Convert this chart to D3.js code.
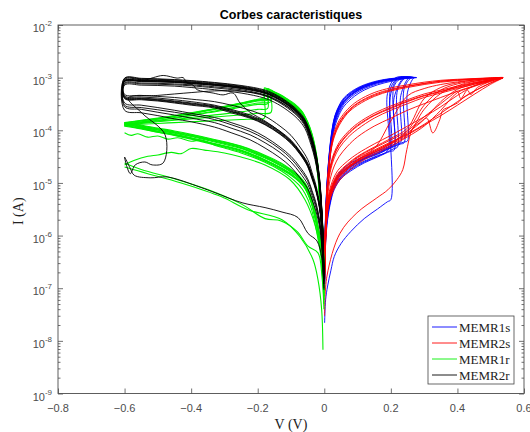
<!DOCTYPE html>
<html><head><meta charset="utf-8">
<script src="https://cdn.jsdelivr.net/npm/d3@7"></script>
<style>body{margin:0;background:#fff}svg{display:block}</style>
</head><body>
<svg id="chart" width="530" height="432"></svg>
<script>
// ---------------- DATA ----------------
const title = "Corbes caracteristiques";
const xLabel = "V (V)";
const yLabel = "I (A)";
const xTicks = [-0.8, -0.6, -0.4, -0.2, 0, 0.2, 0.4, 0.6];
const yTickExp = [-9, -8, -7, -6, -5, -4, -3, -2];
const seriesNames = ["MEMR1s", "MEMR2s", "MEMR1r", "MEMR2r"];
const seriesColors = ["#0000ff", "#ff0000", "#00f000", "#000000"];
const compliance = 1e-3;

// MEMR1s (blue) : HRS forward, set jump, compliance, LRS return
const blueHrsV = [0.001, 0.004, 0.01, 0.02, 0.03, 0.05, 0.08, 0.12, 0.16, 0.19, 0.20, 0.21, 0.22, 0.23, 0.24, 0.25];
const blueHrsI = [
  [2e-7, 1e-6, 2.4e-6, 5.2e-6, 8.5e-6, 1.3e-5, 1.9e-5, 2.6e-5, 3.3e-5, 4.1e-5],
  [1.5e-7, 9e-7, 2.6e-6, 5.8e-6, 9.5e-6, 1.5e-5, 2.1e-5, 2.9e-5, 3.6e-5, 4.4e-5, 4.7e-5],
  [2.5e-7, 1.2e-6, 2.8e-6, 6e-6, 1e-5, 1.6e-5, 2.2e-5, 3e-5, 3.8e-5, 4.6e-5, 4.9e-5, 5.2e-5],
  [1.2e-7, 8e-7, 2.2e-6, 5e-6, 8e-6, 1.25e-5, 1.8e-5, 2.5e-5, 3.2e-5, 3.9e-5, 4.2e-5, 4.5e-5, 4.8e-5],
  [3e-7, 1.3e-6, 3e-6, 6.5e-6, 1.05e-5, 1.7e-5, 2.4e-5, 3.2e-5, 4e-5, 4.8e-5, 5.1e-5, 5.4e-5, 5.7e-5, 6e-5],
  [1.8e-7, 1e-6, 2.5e-6, 5.5e-6, 9e-6, 1.4e-5, 2e-5, 2.8e-5, 3.5e-5, 4.3e-5, 4.6e-5, 4.9e-5, 5.2e-5, 5.5e-5, 5.8e-5],
  [2.2e-7, 1.1e-6, 2.7e-6, 5.9e-6, 9.6e-6, 1.5e-5, 2.1e-5, 2.9e-5, 3.7e-5, 4.5e-5, 4.8e-5, 5.1e-5, 5.4e-5, 5.7e-5, 6e-5, 6.3e-5],
  [1e-7, 7e-7, 2e-6, 4.6e-6, 7.5e-6, 1.2e-5, 1.7e-5, 2.4e-5, 3.1e-5, 3.8e-5, 4e-5, 4.2e-5],
  [2.2e-8, 6e-8, 1.1e-7, 2.2e-7, 4e-7, 7e-7, 1.2e-6, 2.1e-6, 3.2e-6, 4.4e-6, 4.8e-6]
];
const blueJumpI = [5e-4, 6.5e-4, 4.2e-4, 5.8e-4, 4.6e-4, 6.2e-4, 5.3e-4, 7e-4, 5e-4];
const blueTopV = [0.215, 0.225, 0.24, 0.245, 0.255, 0.262, 0.27, 0.235, 0.225];
const blueMaxV = [0.265, 0.27, 0.268, 0.272, 0.27, 0.275, 0.278, 0.265, 0.262];
const blueLrsV = [0.24, 0.2, 0.16, 0.12, 0.09, 0.06, 0.045, 0.032, 0.024, 0.017, 0.01, 0.005, 0.002, 0.001];
const blueLrsI = [
  [1e-3, 9.4e-4, 8.4e-4, 7e-4, 5.6e-4, 3.9e-4, 2.8e-4, 1.8e-4, 1e-4, 4.5e-5, 1.4e-5, 3.5e-6, 7e-7, 2.5e-7],
  [1e-3, 9.2e-4, 8.2e-4, 6.7e-4, 5.3e-4, 3.6e-4, 2.6e-4, 1.6e-4, 9e-5, 4e-5, 1.2e-5, 3e-6, 6e-7, 2e-7],
  [9.8e-4, 9e-4, 8e-4, 6.5e-4, 5.1e-4, 3.4e-4, 2.4e-4, 1.45e-4, 8e-5, 3.5e-5, 1e-5, 2.5e-6, 5e-7, 1.5e-7],
  [1e-3, 9.6e-4, 8.7e-4, 7.3e-4, 5.9e-4, 4.2e-4, 3e-4, 1.9e-4, 1.1e-4, 5e-5, 1.5e-5, 4e-6, 8e-7, 3e-7],
  [9.7e-4, 8.8e-4, 7.7e-4, 6.2e-4, 4.8e-4, 3.2e-4, 2.2e-4, 1.35e-4, 7.5e-5, 3.2e-5, 9e-6, 2.2e-6, 4.5e-7, 1.2e-7],
  [1e-3, 9.3e-4, 8.3e-4, 6.9e-4, 5.4e-4, 3.7e-4, 2.7e-4, 1.7e-4, 9.5e-5, 4.2e-5, 1.3e-5, 3.2e-6, 6.5e-7, 2.2e-7],
  [9.9e-4, 9.1e-4, 8.1e-4, 6.6e-4, 5.2e-4, 3.5e-4, 2.5e-4, 1.55e-4, 8.6e-5, 3.8e-5, 1.1e-5, 2.8e-6, 5.5e-7, 1.8e-7],
  [9.5e-4, 8.5e-4, 7.3e-4, 5.8e-4, 4.4e-4, 2.9e-4, 2e-4, 1.2e-4, 6.5e-5, 2.8e-5, 8e-6, 2e-6, 4e-7, 1e-7],
  [1e-3, 9.5e-4, 8.5e-4, 7.1e-4, 5.7e-4, 4e-4, 2.9e-4, 1.85e-4, 1.05e-4, 4.7e-5, 1.45e-5, 3.7e-6, 7.5e-7, 2.6e-7]
];

// MEMR2s (red)
const redFwdV = [0.001, 0.004, 0.01, 0.02, 0.04, 0.07, 0.1, 0.15, 0.2, 0.25, 0.3, 0.35, 0.4, 0.45, 0.5, 0.537];
const redFwdI = [
  [2e-7, 1e-6, 3.5e-6, 7e-6, 1.3e-5, 2e-5, 2.8e-5, 4.2e-5, 6e-5, 8.5e-5, 1.3e-4, 2.1e-4, 3.5e-4, 5.5e-4, 8e-4, 1e-3],
  [1.5e-7, 8e-7, 3e-6, 6e-6, 1.1e-5, 1.8e-5, 2.5e-5, 3.8e-5, 5.5e-5, 8e-5, 2.5e-4, 5e-4, 7e-4, 8.5e-4, 9.5e-4, 1e-3],
  [2.5e-7, 1.2e-6, 4e-6, 8e-6, 1.5e-5, 2.3e-5, 3.2e-5, 4.8e-5, 7e-5, 1.1e-4, 4e-4, 6.5e-4, 8e-4, 9e-4, 9.7e-4, 1e-3],
  [1.8e-7, 9e-7, 3.2e-6, 6.5e-6, 1.2e-5, 1.9e-5, 2.7e-5, 4e-5, 5.8e-5, 9e-5, 1.6e-4, 3.5e-4, 6e-4, 7.5e-4, 9e-4, 1e-3],
  [3e-7, 1.4e-6, 4.5e-6, 9e-6, 1.7e-5, 2.6e-5, 3.6e-5, 5.5e-5, 8e-5, 1.2e-4, 1.8e-4, 2.8e-4, 4.6e-4, 7e-4, 9e-4, 1e-3],
  [2e-7, 1e-6, 3.6e-6, 7.2e-6, 1.35e-5, 2.1e-5, 3e-5, 4.5e-5, 1.5e-4, 4.5e-4, 6.2e-4, 7.4e-4, 8.3e-4, 9e-4, 9.6e-4, 1e-3],
  [1.2e-7, 7e-7, 2.8e-6, 5.5e-6, 1e-5, 1.6e-5, 2.3e-5, 3.5e-5, 5e-5, 7.5e-5, 1.2e-4, 2.4e-4, 5.2e-4, 6.8e-4, 8.8e-4, 1e-3],
  [2.2e-7, 1.1e-6, 3.8e-6, 7.5e-6, 1.4e-5, 2.2e-5, 3.1e-5, 4.6e-5, 6.6e-5, 1e-4, 3e-4, 5.8e-4, 7.6e-4, 8.6e-4, 9.4e-4, 1e-3],
  [1.6e-7, 8.5e-7, 3.3e-6, 6.8e-6, 1.25e-5, 1.95e-5, 2.7e-5, 4e-5, 5.7e-5, 8.2e-5, 1.25e-4, 1.9e-4, 3e-4, 4.8e-4, 7.5e-4, 1e-3]
];
const redRetV = [0.5, 0.45, 0.4, 0.35, 0.3, 0.25, 0.2, 0.15, 0.1, 0.07, 0.045, 0.03, 0.02, 0.012, 0.006, 0.003, 0.001];
const redRetI = [
  [9.8e-4, 9.5e-4, 9.1e-4, 8.6e-4, 7.8e-4, 6.9e-4, 6e-4, 4.8e-4, 3.3e-4, 2.3e-4, 1.4e-4, 8.5e-5, 4.5e-5, 1.6e-5, 4e-6, 1.2e-6, 2.5e-7],
  [9.9e-4, 9.6e-4, 9.3e-4, 8.9e-4, 8.2e-4, 7.3e-4, 6.4e-4, 5.2e-4, 3.6e-4, 2.5e-4, 1.55e-4, 9.5e-5, 5e-5, 1.8e-5, 4.5e-6, 1.4e-6, 3e-7],
  [9.7e-4, 9.3e-4, 8.8e-4, 8.2e-4, 7.4e-4, 6.5e-4, 5.6e-4, 4.4e-4, 3e-4, 2.1e-4, 1.25e-4, 7.5e-5, 4e-5, 1.4e-5, 3.5e-6, 1e-6, 2e-7],
  [9.8e-4, 9.4e-4, 9e-4, 8.5e-4, 7.7e-4, 6.8e-4, 5.8e-4, 4.6e-4, 3.2e-4, 2.2e-4, 1.35e-4, 8e-5, 4.2e-5, 1.5e-5, 3.8e-6, 1.1e-6, 2.3e-7],
  [9e-4, 7.8e-4, 6.5e-4, 5.4e-4, 4.5e-4, 3.5e-4, 2.6e-4, 1.9e-4, 1.2e-4, 8.2e-5, 5.2e-5, 3.4e-5, 2.1e-5, 1.1e-5, 3.5e-6, 1e-6, 2.2e-7],
  [9.2e-4, 8.1e-4, 6.9e-4, 5.8e-4, 4.9e-4, 3.8e-4, 2.9e-4, 2.1e-4, 1.35e-4, 9.2e-5, 5.9e-5, 3.8e-5, 2.4e-5, 1.25e-5, 4e-6, 1.2e-6, 2.5e-7],
  [8.8e-4, 7.5e-4, 6.2e-4, 5.1e-4, 4.2e-4, 3.2e-4, 2.4e-4, 1.7e-4, 1.05e-4, 7.2e-5, 4.6e-5, 3e-5, 1.85e-5, 9.5e-6, 3e-6, 9e-7, 1.8e-7],
  [9.1e-4, 7.9e-4, 6.6e-4, 5.5e-4, 4.6e-4, 3.6e-4, 2.7e-4, 1.95e-4, 1.25e-4, 8.5e-5, 5.4e-5, 3.5e-5, 2.2e-5, 1.15e-5, 3.6e-6, 1.05e-6, 2.3e-7],
  [8.5e-4, 7e-4, 5.5e-4, 4.2e-4, 3.2e-4, 2.4e-4, 1.7e-4, 1.2e-4, 7.5e-5, 5e-5, 3.2e-5, 2.1e-5, 1.35e-5, 7e-6, 2.3e-6, 7e-7, 1.5e-7]
];
const redExtra = [
  [[0.001, 3e-8], [0.008, 1.7e-7], [0.047, 1.1e-6], [0.098, 2.7e-6], [0.158, 5.2e-6], [0.191, 7.4e-6], [0.218, 1.15e-5], [0.236, 1.8e-5], [0.248, 4.3e-5], [0.266, 1.1e-4], [0.287, 1.4e-4], [0.308, 1.7e-4], [0.326, 8.9e-5], [0.347, 1.6e-4], [0.356, 2.4e-4], [0.377, 2.8e-4], [0.4, 3.3e-4], [0.42, 4.3e-4], [0.467, 6.3e-4], [0.537, 1e-3]],
  [[0.001, 2e-7], [0.01, 3e-6], [0.04, 1.2e-5], [0.1, 2.6e-5], [0.2, 5.5e-5], [0.3, 1.8e-4], [0.35, 3.2e-4], [0.38, 4.5e-4], [0.4, 5.5e-4], [0.41, 4e-4], [0.43, 5.8e-4], [0.44, 4.8e-4], [0.46, 6.5e-4], [0.5, 8.5e-4], [0.537, 1e-3]]
];

// MEMR1r (green)
const greenFwdV = [-0.001, -0.005, -0.013, -0.019, -0.028, -0.037, -0.05, -0.067, -0.09, -0.11, -0.13, -0.15, -0.16, -0.17, -0.18];
const greenFwdI = [
  [1.5e-7, 1.2e-6, 5e-6, 1.8e-5, 4.3e-5, 7.5e-5, 1.3e-4, 2.1e-4, 2.9e-4, 3.6e-4, 4.4e-4, 5.1e-4, 5.5e-4, 5.9e-4],
  [1.2e-7, 1e-6, 4.2e-6, 1.5e-5, 3.7e-5, 6.5e-5, 1.15e-4, 1.9e-4, 2.7e-4, 3.4e-4, 4.1e-4, 4.8e-4, 5.2e-4],
  [2e-7, 1.5e-6, 6e-6, 2.1e-5, 4.8e-5, 8.3e-5, 1.4e-4, 2.25e-4, 3.1e-4, 3.8e-4, 4.6e-4, 5.3e-4, 5.7e-4, 6.1e-4, 6.4e-4],
  [1e-7, 8e-7, 3.5e-6, 1.3e-5, 3.3e-5, 6e-5, 1.05e-4, 1.8e-4, 2.6e-4, 3.3e-4, 4e-4, 4.7e-4, 5.1e-4, 5.4e-4],
  [1.8e-7, 1.4e-6, 5.5e-6, 1.9e-5, 4.5e-5, 7.8e-5, 1.35e-4, 2.2e-4, 3e-4, 3.7e-4, 4.5e-4, 5.2e-4, 5.6e-4],
  [1.4e-7, 1.1e-6, 4.6e-6, 1.7e-5, 4e-5, 7e-5, 1.25e-4, 2e-4, 2.8e-4, 3.5e-4, 4.3e-4, 5e-4, 5.4e-4, 5.8e-4, 6.1e-4],
  [2.2e-7, 1.6e-6, 6.5e-6, 2.2e-5, 5e-5, 8.6e-5, 1.45e-4, 2.3e-4, 3.2e-4, 3.9e-4, 4.7e-4, 5.4e-4, 5.8e-4, 6.2e-4],
  [1.3e-7, 9e-7, 4e-6, 1.4e-5, 3.5e-5, 6.2e-5, 1.1e-4, 1.85e-4, 2.65e-4, 3.35e-4, 4.05e-4, 4.75e-4, 5.15e-4, 5.5e-4],
  [1.6e-7, 1.3e-6, 5.2e-6, 1.85e-5, 4.4e-5, 7.6e-5, 1.3e-4, 2.1e-4, 2.9e-4, 3.6e-4, 4.4e-4, 5.1e-4, 5.5e-4]
];
const greenDropI = [3.8e-4, 3.5e-4, 4.2e-4, 2.6e-4, 3.9e-4, 1.7e-4, 4e-4, 3.2e-4, 2.2e-4];
const greenRstV = [-0.2, -0.25, -0.3, -0.35, -0.4, -0.45, -0.5, -0.55, -0.6];
const greenRstI = [
  [3.6e-4, 3.1e-4, 2.7e-4, 2.35e-4, 2.05e-4, 1.85e-4, 1.65e-4, 1.5e-4, 1.35e-4],
  [3.3e-4, 2.9e-4, 2.5e-4, 2.2e-4, 1.95e-4, 1.75e-4, 1.55e-4, 1.42e-4, 1.3e-4],
  [3.9e-4, 3.3e-4, 2.85e-4, 2.45e-4, 2.15e-4, 1.9e-4, 1.7e-4, 1.55e-4, 1.4e-4],
  [2.5e-4, 2.25e-4, 2.05e-4, 1.9e-4, 1.75e-4, 1.6e-4, 1.5e-4, 1.4e-4, 1.3e-4],
  [3.7e-4, 3.2e-4, 2.75e-4, 2.4e-4, 2.1e-4, 1.88e-4, 1.68e-4, 1.52e-4, 1.38e-4],
  [1.65e-4, 1.6e-4, 1.55e-4, 1.5e-4, 1.45e-4, 1.4e-4, 1.35e-4, 1.3e-4, 1.25e-4],
  [3.8e-4, 3.25e-4, 2.8e-4, 2.4e-4, 2.1e-4, 1.85e-4, 1.62e-4, 1.45e-4, 1.3e-4],
  [3.1e-4, 2.75e-4, 2.4e-4, 2.15e-4, 1.9e-4, 1.7e-4, 1.52e-4, 1.38e-4, 1.25e-4],
  [2.1e-4, 1.95e-4, 1.85e-4, 1.75e-4, 1.65e-4, 1.55e-4, 1.45e-4, 1.35e-4, 1.2e-4]
];
const greenRetV = [-0.6, -0.55, -0.5, -0.45, -0.4, -0.33, -0.25, -0.18, -0.13, -0.1, -0.075, -0.058, -0.04, -0.028, -0.018, -0.01, -0.004, -0.001];
const greenRetI = [
  [1.35e-4, 1.2e-4, 1.05e-4, 9.2e-5, 8e-5, 6.3e-5, 4.7e-5, 3.2e-5, 2.2e-5, 1.7e-5, 1.25e-5, 9.5e-6, 5.3e-6, 2.7e-6, 1.3e-6, 6.5e-7, 2.2e-7, 9e-8],
  [1.3e-4, 1.15e-4, 1e-4, 8.8e-5, 7.6e-5, 6e-5, 4.5e-5, 3e-5, 2.1e-5, 1.6e-5, 1.2e-5, 9e-6, 5e-6, 2.5e-6, 1.2e-6, 6e-7, 2e-7, 8e-8],
  [1.4e-4, 1.25e-4, 1.1e-4, 9.7e-5, 8.4e-5, 6.7e-5, 5e-5, 3.4e-5, 2.4e-5, 1.8e-5, 1.35e-5, 1e-5, 5.6e-6, 2.9e-6, 1.4e-6, 7e-7, 2.4e-7, 1e-7],
  [1.3e-4, 1.12e-4, 9.6e-5, 8.4e-5, 7.2e-5, 5.6e-5, 4.2e-5, 2.8e-5, 1.95e-5, 1.5e-5, 1.1e-5, 8.3e-6, 4.6e-6, 2.3e-6, 1.1e-6, 5.5e-7, 1.8e-7, 7e-8],
  [1.38e-4, 1.22e-4, 1.07e-4, 9.4e-5, 8.2e-5, 6.5e-5, 4.9e-5, 3.3e-5, 2.3e-5, 1.75e-5, 1.3e-5, 9.8e-6, 5.5e-6, 2.8e-6, 1.35e-6, 6.8e-7, 2.3e-7, 9e-8],
  [1.25e-4, 1.08e-4, 9.2e-5, 8e-5, 6.8e-5, 5.3e-5, 3.9e-5, 2.6e-5, 1.8e-5, 1.4e-5, 1.05e-5, 7.8e-6, 4.3e-6, 2.2e-6, 1.05e-6, 5.2e-7, 1.7e-7, 6e-8],
  [1.3e-4, 1.16e-4, 1.02e-4, 9e-5, 7.8e-5, 6.2e-5, 4.6e-5, 3.1e-5, 2.15e-5, 1.65e-5, 1.22e-5, 9.2e-6, 5.1e-6, 2.6e-6, 1.25e-6, 6.2e-7, 2.1e-7, 8e-8],
  [1.25e-4, 1.1e-4, 9.5e-5, 8.3e-5, 7.1e-5, 5.5e-5, 4.1e-5, 2.7e-5, 1.9e-5, 1.45e-5, 1.08e-5, 8e-6, 4.5e-6, 2.3e-6, 1.1e-6, 5.5e-7, 1.8e-7, 7e-8],
  [1.2e-4, 1.06e-4, 9.2e-5, 8.1e-5, 7e-5, 5.5e-5, 4.1e-5, 2.75e-5, 1.9e-5, 1.45e-5, 1.1e-5, 8.2e-6, 4.6e-6, 2.35e-6, 1.15e-6, 5.6e-7, 1.9e-7, 7e-8]
];
const greenExtra = [
  [[-0.6, 9e-5], [-0.58, 8e-5], [-0.56, 8.6e-5], [-0.53, 7.4e-5], [-0.5, 7.8e-5], [-0.47, 6.8e-5], [-0.44, 7.2e-5], [-0.4, 6.2e-5], [-0.37, 6.5e-5], [-0.33, 5.2e-5], [-0.3, 4.6e-5], [-0.25, 3.7e-5], [-0.18, 2.5e-5], [-0.13, 1.7e-5], [-0.1, 1.25e-5], [-0.075, 9e-6], [-0.058, 6.3e-6], [-0.04, 3.4e-6], [-0.028, 1.7e-6], [-0.018, 8e-7], [-0.01, 4e-7], [-0.004, 1.3e-7], [-0.001, 5e-8]],
  [[-0.6, 2.2e-5], [-0.57, 2.7e-5], [-0.53, 3.2e-5], [-0.5, 3.4e-5], [-0.46, 3.8e-5], [-0.43, 3.6e-5], [-0.4, 4.5e-5], [-0.36, 4.2e-5], [-0.3, 3.7e-5], [-0.25, 3.1e-5], [-0.178, 2.2e-5], [-0.103, 1.15e-5], [-0.058, 4.8e-6], [-0.028, 1.6e-6], [-0.007, 3.5e-7], [-0.001, 6e-8]],
  [[-0.6, 2e-5], [-0.56, 1.7e-5], [-0.53, 1.5e-5], [-0.43, 1e-5], [-0.31, 5.5e-6], [-0.23, 3.1e-6], [-0.127, 2e-6], [-0.073, 9.5e-7], [-0.034, 3.5e-7], [-0.019, 1.45e-7], [-0.008, 4e-8], [-0.004, 6.8e-9]],
  [[-0.6, 2.4e-5], [-0.55, 1.8e-5], [-0.45, 1.2e-5], [-0.35, 7.5e-6], [-0.25, 4e-6], [-0.178, 2.1e-6], [-0.13, 1.9e-6], [-0.082, 1.2e-6], [-0.049, 6.3e-7], [-0.019, 4.7e-7], [-0.007, 1.7e-7], [-0.001, 4e-8]]
];

// MEMR2r (black)
const blackFwdV = [-0.001, -0.004, -0.008, -0.013, -0.02, -0.028, -0.04, -0.058, -0.08, -0.103, -0.14, -0.178, -0.25, -0.33, -0.4, -0.45, -0.5, -0.55, -0.6];
const blackFwdI = [
  [1.5e-7, 9.5e-7, 3e-6, 8.5e-6, 2e-5, 3.7e-5, 7e-5, 1.4e-4, 2.1e-4, 2.8e-4, 4e-4, 5.1e-4, 6.3e-4, 7.2e-4, 7.8e-4, 8.2e-4, 8.4e-4, 8.5e-4, 8.5e-4],
  [1.7e-7, 1.05e-6, 3.3e-6, 9.5e-6, 2.2e-5, 4.1e-5, 7.7e-5, 1.5e-4, 2.25e-4, 3e-4, 4.3e-4, 5.4e-4, 6.7e-4, 7.6e-4, 8.3e-4, 8.7e-4, 9e-4, 9.2e-4, 9.3e-4],
  [1.3e-7, 8.5e-7, 2.7e-6, 7.6e-6, 1.8e-5, 3.3e-5, 6.3e-5, 1.28e-4, 1.95e-4, 2.6e-4, 3.7e-4, 4.7e-4, 5.9e-4, 6.7e-4, 7.3e-4, 7.6e-4, 7.8e-4, 7.9e-4, 7.9e-4],
  [1.6e-7, 1e-6, 3.1e-6, 8.8e-6, 2.1e-5, 3.9e-5, 7.3e-5, 1.45e-4, 2.2e-4, 2.9e-4, 4.1e-4, 5.2e-4, 6.5e-4, 7.4e-4, 8e-4, 8.4e-4, 8.7e-4, 8.8e-4, 8.9e-4],
  [1.2e-7, 8e-7, 2.5e-6, 7e-6, 1.7e-5, 3.1e-5, 5.9e-5, 1.2e-4, 1.85e-4, 2.45e-4, 3.5e-4, 4.5e-4, 5.6e-4, 6.4e-4, 7e-4, 7.3e-4, 7.5e-4, 7.6e-4, 7.6e-4],
  [1.8e-7, 1.1e-6, 3.5e-6, 1e-5, 2.3e-5, 4.3e-5, 8e-5, 1.55e-4, 2.3e-4, 3.1e-4, 4.4e-4, 5.6e-4, 6.9e-4, 7.9e-4, 8.6e-4, 9e-4, 9.3e-4, 9.5e-4, 9.6e-4],
  [1.4e-7, 9e-7, 2.9e-6, 8.2e-6, 1.95e-5, 3.6e-5, 6.8e-5, 1.37e-4, 2.05e-4, 2.75e-4, 3.9e-4, 5e-4, 6.2e-4, 7.1e-4, 7.7e-4, 8.1e-4, 8.3e-4, 8.4e-4, 8.4e-4],
  [1e-7, 7e-7, 2.2e-6, 6.3e-6, 1.5e-5, 2.8e-5, 5.3e-5, 1.08e-4, 1.65e-4, 2.2e-4, 3.15e-4, 4.05e-4, 5.1e-4, 5.9e-4, 6.5e-4, 6.9e-4, 7.1e-4, 7.2e-4, 7.2e-4],
  [1.5e-7, 9.8e-7, 3.1e-6, 8.7e-6, 2.05e-5, 3.8e-5, 7.2e-5, 1.42e-4, 2.15e-4, 2.85e-4, 4.05e-4, 5.15e-4, 6.4e-4, 7.3e-4, 7.9e-4, 8.3e-4, 8.6e-4, 8.7e-4, 8.7e-4],
  [1.9e-7, 1.2e-6, 3.7e-6, 1.05e-5, 2.4e-5, 4.5e-5, 8.4e-5, 1.6e-4, 2.4e-4, 3.2e-4, 4.55e-4, 5.8e-4, 7.1e-4, 8.1e-4, 8.8e-4, 9.2e-4, 9.5e-4, 9.7e-4, 9.8e-4]
];
const blackRetV = [-0.6, -0.55, -0.5, -0.45, -0.4, -0.33, -0.28, -0.223, -0.178, -0.133, -0.1, -0.073, -0.05, -0.037, -0.025, -0.013, -0.006, -0.002];
const blackRetI = [
  [4.2e-4, 4e-4, 3.8e-4, 3.5e-4, 3.2e-4, 2.8e-4, 2.3e-4, 1.8e-4, 1.35e-4, 8.9e-5, 6e-5, 3.7e-5, 2.2e-5, 1.3e-5, 7.5e-6, 3.1e-6, 1e-6, 2.5e-7],
  [4.5e-4, 4.3e-4, 4.1e-4, 3.8e-4, 3.5e-4, 3e-4, 2.5e-4, 1.95e-4, 1.45e-4, 9.6e-5, 6.5e-5, 4e-5, 2.4e-5, 1.4e-5, 8e-6, 3.3e-6, 1.1e-6, 2.7e-7],
  [4e-4, 3.8e-4, 3.6e-4, 3.3e-4, 3e-4, 2.65e-4, 2.15e-4, 1.7e-4, 1.27e-4, 8.4e-5, 5.6e-5, 3.5e-5, 2.05e-5, 1.2e-5, 7e-6, 2.9e-6, 9.5e-7, 2.3e-7],
  [4.8e-4, 4.6e-4, 4.4e-4, 4.2e-4, 3.9e-4, 3.5e-4, 3e-4, 2.4e-4, 1.85e-4, 1.2e-4, 8e-5, 4.8e-5, 2.8e-5, 1.6e-5, 9e-6, 3.6e-6, 1.2e-6, 3e-7],
  [4.3e-4, 4.1e-4, 3.9e-4, 3.6e-4, 3.3e-4, 2.9e-4, 2.4e-4, 1.85e-4, 1.4e-4, 9.2e-5, 6.2e-5, 3.8e-5, 2.25e-5, 1.35e-5, 7.7e-6, 3.2e-6, 1e-6, 2.6e-7],
  [3.3e-4, 3e-4, 2.7e-4, 2.4e-4, 2.1e-4, 1.75e-4, 1.4e-4, 1.05e-4, 7.5e-5, 4.8e-5, 3.2e-5, 2e-5, 1.2e-5, 7.2e-6, 4.2e-6, 1.8e-6, 6e-7, 1.5e-7],
  [2.8e-4, 2.5e-4, 2.2e-4, 1.95e-4, 1.7e-4, 1.4e-4, 1.1e-4, 8.2e-5, 5.8e-5, 3.8e-5, 2.5e-5, 1.55e-5, 9.5e-6, 5.8e-6, 3.4e-6, 1.5e-6, 5e-7, 1.3e-7],
  [3e-4, 2.7e-4, 2.45e-4, 2.2e-4, 1.95e-4, 1.6e-4, 1.28e-4, 9.5e-5, 6.8e-5, 4.4e-5, 2.9e-5, 1.8e-5, 1.1e-5, 6.6e-6, 3.8e-6, 1.6e-6, 5.5e-7, 1.4e-7],
  [4.1e-4, 3.9e-4, 3.7e-4, 3.4e-4, 3.1e-4, 2.75e-4, 2.25e-4, 1.75e-4, 1.3e-4, 8.6e-5, 5.8e-5, 3.6e-5, 2.1e-5, 1.25e-5, 7.2e-6, 3e-6, 9.8e-7, 2.4e-7],
  [2.4e-4, 2.15e-4, 1.9e-4, 1.65e-4, 1.45e-4, 1.15e-4, 9e-5, 6.6e-5, 4.6e-5, 3e-5, 2e-5, 1.25e-5, 7.8e-6, 4.8e-6, 2.9e-6, 1.3e-6, 4.5e-7, 1.2e-7]
];
const blackExtra = [
  [[-0.001, 1.6e-7], [-0.004, 1e-6], [-0.013, 9e-6], [-0.028, 3.9e-5], [-0.058, 1.45e-4], [-0.103, 2.9e-4], [-0.178, 5.3e-4], [-0.25, 6.6e-4], [-0.33, 7.5e-4], [-0.4, 8.2e-4], [-0.5, 8.8e-4], [-0.6, 8.8e-4], [-0.57, 9.4e-4], [-0.54, 9e-4], [-0.514, 1e-3], [-0.484, 1.1e-3], [-0.442, 9.8e-4], [-0.424, 1e-3], [-0.412, 7.9e-4], [-0.394, 7.2e-4], [-0.382, 5.9e-4], [-0.334, 5.1e-4], [-0.304, 4.7e-4], [-0.274, 5.1e-4], [-0.253, 3.3e-4], [-0.223, 2.2e-4], [-0.178, 1.5e-4], [-0.133, 9.5e-5], [-0.1, 6.2e-5], [-0.073, 3.9e-5], [-0.05, 2.3e-5], [-0.037, 1.4e-5], [-0.025, 8e-6], [-0.013, 3.2e-6], [-0.006, 1e-6], [-0.002, 2.6e-7]],
  [[-0.001, 1.4e-7], [-0.004, 9e-7], [-0.013, 8e-6], [-0.028, 3.5e-5], [-0.058, 1.3e-4], [-0.103, 2.6e-4], [-0.178, 4.6e-4], [-0.25, 5.5e-4], [-0.33, 5.6e-4], [-0.4, 5.2e-4], [-0.5, 4.6e-4], [-0.589, 4.1e-4], [-0.547, 2.1e-4], [-0.478, 8.1e-5], [-0.484, 2.4e-5], [-0.517, 2.2e-5], [-0.539, 2.5e-5], [-0.568, 2.2e-5], [-0.583, 1.5e-5], [-0.6, 3.1e-5], [-0.583, 1.9e-5], [-0.571, 1.4e-5], [-0.523, 1.25e-5], [-0.472, 1.3e-5], [-0.373, 8.3e-6], [-0.328, 6.5e-6], [-0.247, 4.2e-6], [-0.178, 3.4e-6], [-0.127, 2.8e-6], [-0.079, 2.2e-6], [-0.049, 1.1e-6], [-0.022, 7.9e-7], [-0.007, 3.6e-7], [-0.001, 9.3e-8]]
];

// ---------------- BUILD TRACES ----------------
const zip = (vs, is) => is.map((v, j) => [vs[j], v]);
const blueTraces = blueHrsI.map((h, i) => {
  const vset = blueHrsV[h.length - 1];
  return zip(blueHrsV, h).concat([[vset, blueJumpI[i]], [blueTopV[i], compliance], [blueMaxV[i], compliance]], zip(blueLrsV, blueLrsI[i]));
});
const redTraces = redFwdI.map((f, i) => zip(redFwdV, f).concat(zip(redRetV, redRetI[i]))).concat(redExtra);
const greenTraces = greenFwdI.map((f, i) => {
  const vr = greenFwdV[f.length - 1];
  return zip(greenFwdV, f).concat([[vr, greenDropI[i]]], zip(greenRstV, greenRstI[i]), zip(greenRetV, greenRetI[i]));
}).concat(greenExtra);
const blackTraces = blackFwdI.map((f, i) => zip(blackFwdV, f).concat(zip(blackRetV, blackRetI[i]))).concat(blackExtra);
const allTraces = [blueTraces, redTraces, greenTraces, blackTraces];

// ---------------- DRAW ----------------
const svg = d3.select("#chart");
svg.append("rect").attr("width", 530).attr("height", 432).attr("fill", "#fff");
const L = 58, R = 524, T = 25, B = 393.5;
const x = d3.scaleLinear().domain([-0.8, 0.6]).range([L, R]);
const y = d3.scaleLog().domain([1e-9, 1e-2]).range([B, T]);
const axisColor = "#4d4d4d";
const sans = "'Liberation Sans', Arial, sans-serif";
const serif = "'Liberation Serif', 'Times New Roman', serif";

svg.append("clipPath").attr("id", "clip").append("rect")
  .attr("x", L).attr("y", T).attr("width", R - L).attr("height", B - T);

const line = d3.line().x(d => x(d[0])).y(d => y(d[1])).curve(d3.curveCatmullRom.alpha(0.5));
const plot = svg.append("g").attr("clip-path", "url(#clip)");
allTraces.forEach((traces, s) => {
  plot.append("g").selectAll("path").data(traces).join("path")
    .attr("d", line).attr("fill", "none")
    .attr("stroke", seriesColors[s]).attr("stroke-width", s === 2 ? 1.1 : 0.9)
    .attr("stroke-linejoin", "round");
});

// axes
const yMajor = yTickExp.map(e => Math.pow(10, e));
const yMinor = [];
yTickExp.slice(0, -1).forEach(e => { for (let k = 2; k <= 9; k++) yMinor.push(k * Math.pow(10, e)); });

function styleAxis(g) {
  g.select(".domain").remove();
  g.selectAll("line").attr("stroke", axisColor).attr("stroke-width", 0.8);
  g.selectAll("text").remove();
}
svg.append("g").attr("transform", `translate(0,${B})`).call(d3.axisBottom(x).tickValues(xTicks).tickSizeInner(-5).tickSizeOuter(0)).call(styleAxis);
svg.append("g").attr("transform", `translate(0,${T})`).call(d3.axisTop(x).tickValues(xTicks).tickSizeInner(-5).tickSizeOuter(0)).call(styleAxis);
svg.append("g").attr("transform", `translate(${L},0)`).call(d3.axisLeft(y).tickValues(yMajor).tickSizeInner(-5).tickSizeOuter(0)).call(styleAxis);
svg.append("g").attr("transform", `translate(${R},0)`).call(d3.axisRight(y).tickValues(yMajor).tickSizeInner(-5).tickSizeOuter(0)).call(styleAxis);
svg.append("g").attr("transform", `translate(${L},0)`).call(d3.axisLeft(y).tickValues(yMinor).tickSizeInner(-2.5).tickSizeOuter(0)).call(styleAxis);
svg.append("g").attr("transform", `translate(${R},0)`).call(d3.axisRight(y).tickValues(yMinor).tickSizeInner(-2.5).tickSizeOuter(0)).call(styleAxis);
svg.append("rect").attr("x", L).attr("y", T).attr("width", R - L).attr("height", B - T)
  .attr("fill", "none").attr("stroke", axisColor).attr("stroke-width", 0.9);

// tick labels
svg.append("g").selectAll("text").data(xTicks).join("text")
  .attr("x", d => x(d)).attr("y", B + 18).attr("text-anchor", "middle")
  .attr("font-family", sans).attr("font-size", 11).attr("fill", axisColor)
  .text(d => d3.format("")(d));
const yl = svg.append("g").selectAll("text").data(yTickExp).join("text")
  .attr("x", 52).attr("y", d => y(Math.pow(10, d)) + 7).attr("text-anchor", "end")
  .attr("font-family", sans).attr("font-size", 11).attr("fill", axisColor);
yl.append("tspan").text("10");
yl.append("tspan").attr("dy", -6).attr("font-size", 8).text(d => String(d));

// titles
svg.append("text").attr("x", (L + R) / 2).attr("y", 19).attr("text-anchor", "middle")
  .attr("font-family", sans).attr("font-size", 12.5).attr("font-weight", "bold").attr("fill", "#000").text(title);
svg.append("text").attr("x", (L + R) / 2).attr("y", 429).attr("text-anchor", "middle")
  .attr("font-family", serif).attr("font-size", 14).attr("fill", "#222").text(xLabel);
svg.append("text").attr("transform", `translate(23,${(T + B) / 2 + 2}) rotate(-90)`).attr("text-anchor", "middle")
  .attr("font-family", serif).attr("font-size", 14).attr("fill", "#222").text(yLabel);

// legend
const lg = svg.append("g");
lg.append("rect").attr("x", 428).attr("y", 316).attr("width", 86).attr("height", 68)
  .attr("fill", "#fff").attr("stroke", "#444").attr("stroke-width", 0.8);
seriesNames.forEach((n, i) => {
  const cy = 327 + i * 16;
  lg.append("line").attr("x1", 432).attr("x2", 457).attr("y1", cy).attr("y2", cy)
    .attr("stroke", seriesColors[i]).attr("stroke-width", 0.9);
  lg.append("text").attr("x", 459).attr("y", cy + 4.5).attr("font-family", serif)
    .attr("font-size", 13).attr("fill", "#222").text(n);
});
</script>
</body></html>
